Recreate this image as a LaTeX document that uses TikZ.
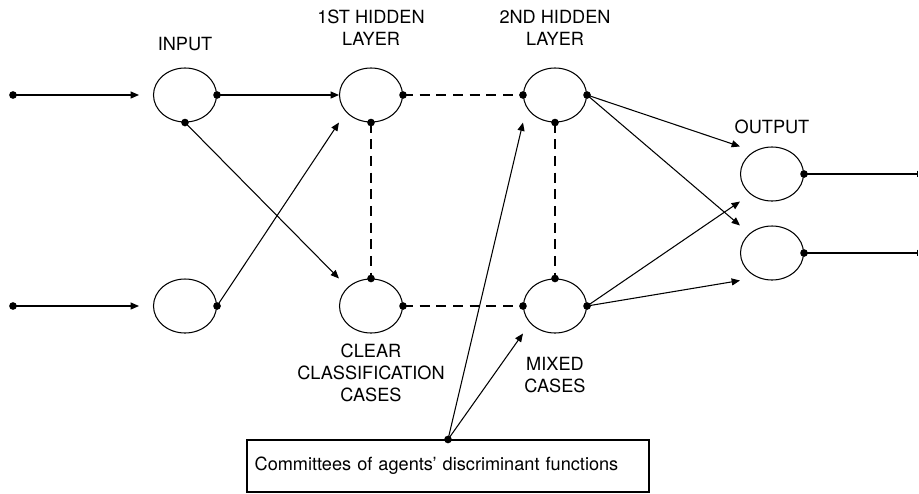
\documentclass[tikz,border=0pt]{standalone}
\usepackage{fontspec}
\setmainfont{TeX Gyre Heros}
\usetikzlibrary{arrows.meta,shapes.geometric}

\begin{document}
\begin{tikzpicture}[x=0.03cm, y=-0.03cm,
    neuron/.style={draw, ellipse, line width=0.9pt, minimum width=1.89cm, minimum height=1.62cm, inner sep=0pt},
    lbl/.style={align=center, font=\fontsize{15.5}{18.5}\selectfont},
    link/.style={line width=0.9pt, -{Triangle[length=0.25cm, width=0.21cm]}},
    dashlink/.style={line width=0.9pt, dash pattern=on 0.3cm off 0.2cm}]
    \useasboundingbox (0,0) rectangle (919,493);

    % Neurons
    \node[neuron] (i1) at (185,95) {};
    \node[neuron] (i2) at (185,306) {};
    \node[neuron] (h1a) at (371,95) {};
    \node[neuron] (h1b) at (371,306) {};
    \node[neuron] (h2a) at (555,95) {};
    \node[neuron] (h2b) at (555,306) {};
    \node[neuron] (o1) at (772,174) {};
    \node[neuron] (o2) at (772,253) {};

    % Layer labels
    \node[lbl] (inlbl) at (185,44) {INPUT};
    \node[lbl] (h1lbl) at (371,28) {1ST HIDDEN\\LAYER};
    \node[lbl] (h2lbl) at (555,28) {2ND HIDDEN\\LAYER};
    \node[lbl] (outlbl) at (772,127) {OUTPUT};
    \node[lbl] (clearlbl) at (371,373) {CLEAR\\CLASSIFICATION\\CASES};
    \node[lbl] (mixedlbl) at (555,375) {MIXED\\CASES};

    % Committee box
    \node[draw, line width=0.9pt, minimum width=12.06cm, minimum height=1.56cm,
          text width=11.6cm, align=left, inner xsep=0.18cm,
          font=\fontsize{15.5}{18.5}\selectfont] (comm) at (448,466)
          {Committees of agents' discriminant functions};

    % In and out ends
    \coordinate (s1) at (13,95);
    \coordinate (s2) at (13,306);
    \coordinate (e1) at (918,174);
    \coordinate (e2) at (918,253);

    % Inputs
    \draw[link, shorten >=0.42cm] (s1) -- (i1);
    \draw[link, shorten >=0.42cm] (s2) -- (i2);

    % Input to 1st hidden layer
    \draw[link] (i1.east) -- (h1a.west);
    \draw[link] (i1.south) -- (h1b.north -| h1b.west);
    \draw[link] (i2.east) -- (h1a.south -| h1a.west);

    % Dashed links in the hidden layers
    \draw[dashlink] (h1a.east) -- (h2a.west);
    \draw[dashlink] (h1b.east) -- (h2b.west);
    \draw[dashlink] (h1a.south) -- (h1b.north);
    \draw[dashlink] (h2a.south) -- (h2b.north);

    % 2nd hidden layer to output
    \draw[link] (h2a.east) -- (o1.north -| o1.west);
    \draw[link] (h2a.east) -- (o2.north -| o2.west);
    \draw[link] (h2b.east) -- (o1.south -| o1.west);
    \draw[link] (h2b.east) -- (o2.south -| o2.west);

    % Committees
    \draw[link] (comm.north) -- (h2a.south -| h2a.west);
    \draw[link] (comm.north) -- (h2b.south -| h2b.west);

    % Outputs
    \draw[line width=0.9pt, -{Bar[width=0.2cm]}] (o1.east) -- (e1);
    \draw[line width=0.9pt, -{Bar[width=0.2cm]}] (o2.east) -- (e2);

    % Dots
    \foreach \p in {s1, s2, i1.east, i1.south, i2.east, h1a.east, h1a.south,
                    h1b.north, h1b.east, h2a.west, h2a.east, h2a.south,
                    h2b.west, h2b.north, h2b.east, o1.east, o2.east, comm.north}
        \fill (\p) circle (0.115cm);
\end{tikzpicture}
\end{document}
